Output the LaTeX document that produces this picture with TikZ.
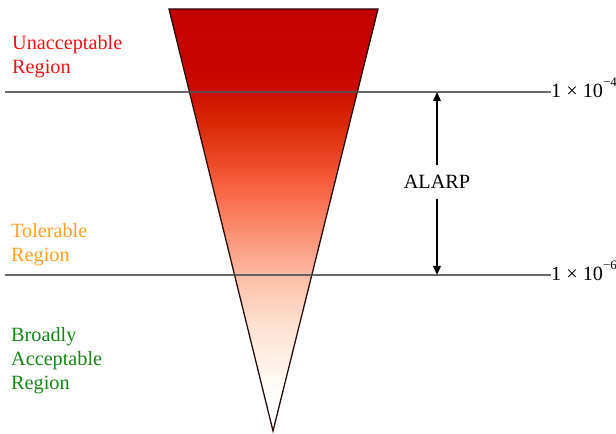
\documentclass[tikz,border=0pt]{standalone}
\usepackage{fontspec}
\setmainfont{Liberation Serif}
\usetikzlibrary{arrows.meta}
\definecolor{r0}{RGB}{194,0,0}
\definecolor{r1}{RGB}{202,10,0}
\definecolor{r2}{RGB}{216,38,5}
\definecolor{r3}{RGB}{236,72,40}
\definecolor{r4}{RGB}{250,112,80}
\definecolor{r5}{RGB}{252,152,125}
\definecolor{r6}{RGB}{253,195,175}
\definecolor{r7}{RGB}{254,225,210}
\definecolor{r8}{RGB}{255,244,236}
\definecolor{unaccred}{RGB}{240,20,20}
\definecolor{tolorange}{RGB}{255,160,30}
\definecolor{broadgreen}{RGB}{20,135,20}
\definecolor{limitgray}{RGB}{80,80,80}
\definecolor{edgedark}{RGB}{40,15,15}
\pgfdeclareverticalshading{riskfade}{100bp}{%
 color(0bp)=(white); color(28.5bp)=(white); color(32.5bp)=(r8);
 color(37.5bp)=(r7); color(42.5bp)=(r6); color(47.5bp)=(r5);
 color(52.4bp)=(r4); color(57.1bp)=(r3); color(61.85bp)=(r2);
 color(66bp)=(r1); color(75bp)=(r0); color(100bp)=(r0)}
\begin{document}
\begin{tikzpicture}[x=1bp,y=-1bp,
  txt/.style={font=\fontsize{20.3}{24}\selectfont, inner sep=0pt},
  region/.style={txt, align=left, anchor=north west},
  limitline/.style={draw=limitgray, opacity=0.85},
  edge/.style={draw=edgedark, line width=1.3bp, line join=miter},
  arr/.style={line width=1.8bp, -{Triangle[length=9bp,width=7.5bp]}}]
\useasboundingbox (0,0) rectangle (616,434);
% inverted triangle
\coordinate (tl) at (169,9);
\coordinate (tr) at (378,9);
\coordinate (ap) at (273,431);
\path[shading=riskfade] (tl) -- (tr) -- (ap) -- cycle;
\draw[edge] (tl) -- (tr) -- (ap) -- cycle;
% limit labels
\node[txt, anchor=base west] (p4) at (551,98) {1 × 10\raisebox{0.55em}{\fontsize{13}{13}\selectfont −4}};
\node[txt, anchor=base west] (p6) at (551,281) {1 × 10\raisebox{0.55em}{\fontsize{13}{13}\selectfont −6}};
% limit lines
\coordinate (l4a) at (5,92);
\coordinate (l6a) at (5,275);
\draw[limitline, line width=2.4bp] (l4a) -- (l4a -| p4.west);
\draw[limitline, line width=1.6bp] (l6a) -- (l6a -| p6.west);
% ALARP
\node[txt, inner ysep=10bp] (alarp) at (437,182) {ALARP};
\draw[arr] (alarp.north) -- (alarp.north |- l4a);
\draw[arr] (alarp.south) -- (alarp.south |- l6a);
% regions
\node[region, text=unaccred] (unacc) at (12,35) {Unacceptable\\Region};
\node[region, text=tolorange] (toler) at (11,223) {Tolerable\\Region};
\node[region, text=broadgreen] (broad) at (11,327) {Broadly\\Acceptable\\Region};
\end{tikzpicture}
\end{document}
